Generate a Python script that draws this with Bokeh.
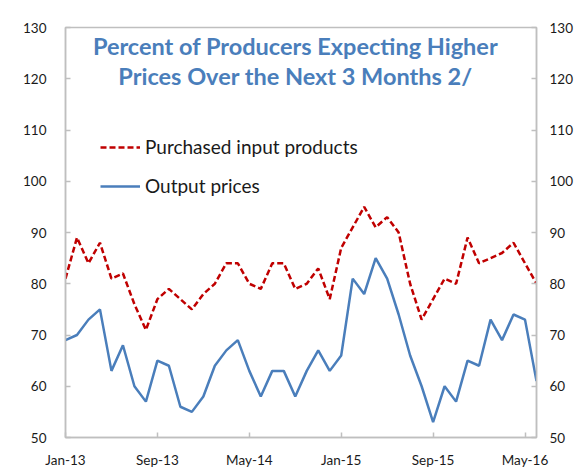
from bokeh.plotting import figure
from bokeh.models import (Range1d, LinearAxis, FixedTicker, Legend, LegendItem, Label,
                          ColumnDataSource)
from bokeh.embed import file_html
from bokeh.resources import INLINE

# ---- data (monthly, Jan-13 .. Jun-16) ----
months = ["Jan-13", "Feb-13", "Mar-13", "Apr-13", "May-13", "Jun-13", "Jul-13", "Aug-13",
          "Sep-13", "Oct-13", "Nov-13", "Dec-13", "Jan-14", "Feb-14", "Mar-14", "Apr-14",
          "May-14", "Jun-14", "Jul-14", "Aug-14", "Sep-14", "Oct-14", "Nov-14", "Dec-14",
          "Jan-15", "Feb-15", "Mar-15", "Apr-15", "May-15", "Jun-15", "Jul-15", "Aug-15",
          "Sep-15", "Oct-15", "Nov-15", "Dec-15", "Jan-16", "Feb-16", "Mar-16", "Apr-16",
          "May-16", "Jun-16"]
purchased_input = [81, 89, 84, 88, 81, 82, 76, 71, 77, 79, 77, 75, 78, 80, 84, 84,
                   80, 79, 84, 84, 79, 80, 83, 77, 87, 91, 95, 91, 93, 90, 80, 73,
                   77, 81, 80, 89, 84, 85, 86, 88, 84, 80]
output_prices = [69, 70, 73, 75, 63, 68, 60, 57, 65, 64, 56, 55, 58, 64, 67, 69,
                 63, 58, 63, 63, 58, 63, 67, 63, 66, 81, 78, 85, 81, 74, 66, 60,
                 53, 60, 57, 65, 64, 73, 69, 74, 73, 61]
x_tick_labels = ["Jan-13", "Sep-13", "May-14", "Jan-15", "Sep-15", "May-16"]
y_ticks = [50, 60, 70, 80, 90, 100, 110, 120, 130]
title_lines = ["Percent of Producers Expecting Higher", "Prices Over the Next 3 Months 2/"]

idx = list(range(len(months)))
x_tick_pos = [months.index(m) for m in x_tick_labels]
src = ColumnDataSource(dict(x=idx, purchased=purchased_input, output=output_prices))

FONT = "Lato"
AXIS_COLOR = "#bfbfbf"
TEXT_COLOR = "#1a1a1a"
BLUE = "#4a7ebb"

p = figure(width=576, height=470, output_backend="svg", toolbar_location=None,
           x_range=Range1d(0, len(months) - 1), y_range=Range1d(50, 130),
           min_border_left=65, min_border_right=40, min_border_top=27, min_border_bottom=33)
p.xgrid.visible = False
p.ygrid.visible = False
p.outline_line_color = AXIS_COLOR
p.outline_line_width = 1.5
p.background_fill_color = "white"
p.border_fill_color = "white"

r1 = p.line("x", "purchased", source=src, line_color="#c00000", line_width=2.5,
            line_dash="6 3")
r2 = p.line("x", "output", source=src, line_color=BLUE, line_width=2.5)

# x axis
xa = p.xaxis[0]
xa.ticker = FixedTicker(ticks=x_tick_pos)
xa.major_label_overrides = {pos: lab for pos, lab in zip(x_tick_pos, x_tick_labels)}

# left y axis
ya = p.yaxis[0]
ya.ticker = FixedTicker(ticks=y_ticks)

# right y axis
yr = LinearAxis(ticker=FixedTicker(ticks=y_ticks))
p.add_layout(yr, "right")

for ax in (xa, ya, yr):
    ax.axis_line_color = AXIS_COLOR
    ax.axis_line_width = 1.5
    ax.major_tick_line_color = AXIS_COLOR
    ax.major_tick_line_width = 1.5
    ax.major_tick_in = 5
    ax.major_tick_out = 0
    ax.minor_tick_line_color = None
    ax.major_label_text_font = FONT
    ax.major_label_text_font_size = "13.5px"
    ax.major_label_text_color = TEXT_COLOR
xa.major_label_standoff = 14
ya.major_label_standoff = 19
yr.major_label_standoff = 13

# title inside the plot area
for i, line in enumerate(title_lines):
    p.add_layout(Label(x=230, y=392 - 30 * i, x_units="screen", y_units="screen",
                       text=line, text_align="center", text_baseline="middle",
                       text_font=FONT, text_font_style="bold", text_font_size="23.5px",
                       text_color=BLUE))

legend = Legend(items=[LegendItem(label="Purchased input products", renderers=[r1]),
                       LegendItem(label="Output prices", renderers=[r2])],
                location=(35, 240), orientation="vertical",
                border_line_color=None, background_fill_alpha=0,
                glyph_width=40, glyph_height=22, label_height=22, spacing=16,
                padding=0, margin=0, label_standoff=5,
                label_text_font=FONT, label_text_font_size="19px",
                label_text_color=TEXT_COLOR)
p.add_layout(legend, "center")

open("out.html", "w").write(file_html(p, INLINE))
